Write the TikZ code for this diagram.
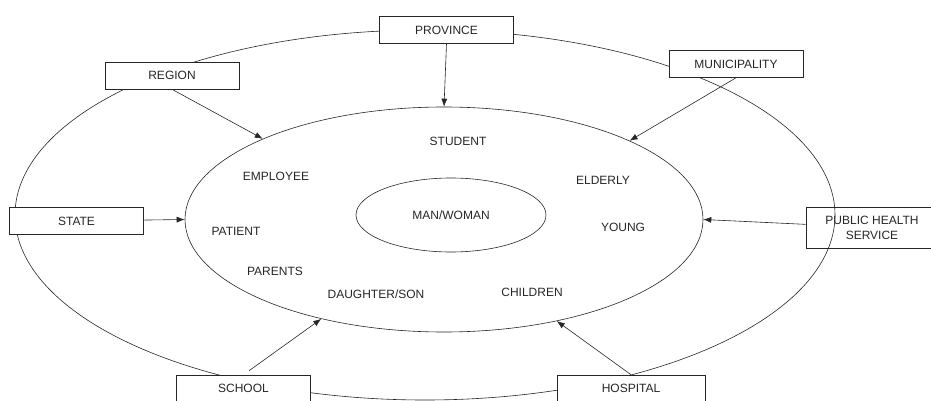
\documentclass[tikz,border=0pt]{standalone}
\usepackage{fontspec}
\setmainfont{Liberation Sans}
\usetikzlibrary{shapes.geometric}
\usetikzlibrary{arrows.meta}

\begin{document}
\begin{tikzpicture}
		[x=1pt, y=-1pt, color=black!85, line width=0.6pt,
		>={Latex[length=8pt,width=6pt]},
		font=\fontsize{12}{15}\selectfont,
		ring/.style={ellipse, draw, inner sep=0pt},
		unit/.style={rectangle, draw, fill=white, minimum width=134pt, minimum height=27pt, inner sep=0pt},
		role/.style={inner sep=0pt}]
		\useasboundingbox (0,0) rectangle (931,401);
		\node[ring, minimum width=820pt, minimum height=370pt] (o) at (425,215) {};
		\node[ring, minimum width=518pt, minimum height=225pt] (i) at (444,219.5) {};
		\node[ring, minimum width=190pt, minimum height=74pt] (mw) at (451,215) {MAN/WOMAN};

		\node[unit] (p) at (446.5,30) {PROVINCE};
		\node[unit] (r) at (172,75.5) {REGION};
		\node[unit] (mu) at (736,64) {MUNICIPALITY};
		\node[unit] (st) at (76.5,221) {STATE};
		\node[unit, fill=none, minimum width=132pt, minimum height=41pt, align=center] (ph) at (872,227.5) {PUBLIC HEALTH\\SERVICE};
		\node[unit] (sc) at (243.5,388.5) {SCHOOL};
		\node[unit, minimum width=148pt] (h) at (631,388.5) {HOSPITAL};

		\node[role] (stu) at (458,141) {STUDENT};
		\node[role] (emp) at (276,176) {EMPLOYEE};
		\node[role] (eld) at (603,180) {ELDERLY};
		\node[role] (pat) at (236,231) {PATIENT};
		\node[role] (yng) at (623,227) {YOUNG};
		\node[role] (par) at (275,271) {PARENTS};
		\node[role] (ds) at (376,294) {DAUGHTER/SON};
		\node[role] (chi) at (532,292) {CHILDREN};

		\draw[->] (p.south) to (i.north);
		\draw[->] (r.south) to (i.156.6);
		\draw[->] (mu.south) to (i.23.1);
		\draw[->] (st) to (i.west);
		\draw[->] (ph) to (i.east);
		\draw[->, shorten <=7pt] (sc.north) to (i.219.3);
		\draw[->] (h.north) to (i.318.5);
	\end{tikzpicture}
\end{document}
